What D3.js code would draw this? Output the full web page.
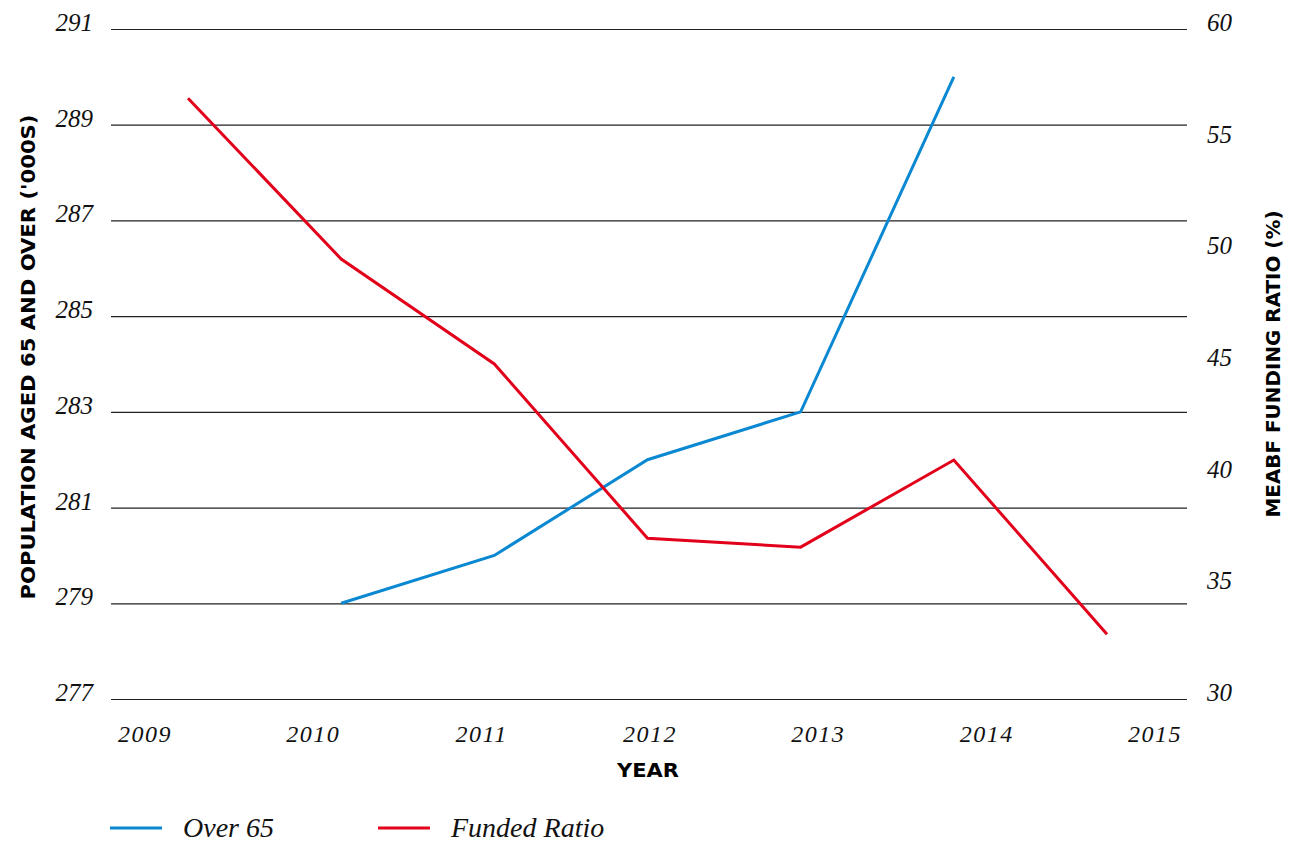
<!DOCTYPE html>
<html>
<head>
<meta charset="utf-8">
<style>
body { margin: 0; background: #fff; }
.num { font-family: "Liberation Serif", serif; font-style: italic; fill: #111; }
.ttl { font-family: "DejaVu Sans", sans-serif; font-weight: bold; fill: #000; }
</style>
</head>
<body>
<script src="https://cdn.jsdelivr.net/npm/d3@7/dist/d3.min.js"></script>
<script>

var years = ["2009", "2010", "2011", "2012", "2013", "2014", "2015"];
var over65 = [null, 279, 280, 282, 283, 290, null];
var fundedRatio = [56.9, 49.7, 45.0, 37.2, 36.8, 40.7, 32.9];
var leftTicks = [277, 279, 281, 283, 285, 287, 289, 291];
var rightTicks = [30, 35, 40, 45, 50, 55, 60];

var width = 1299, height = 843;

var svg = d3.select("body").append("svg")
    .attr("width", width)
    .attr("height", height);

// data points sit inside the label positions
var x = d3.scalePoint().domain(years).range([188, 1107]);
var xLab = d3.scalePoint().domain(years).range([145, 1155]);

var yLeft = d3.scaleLinear().domain([277, 291]).range([699, 29]);
var yRight = d3.scaleLinear().domain([30, 60]).range([699, 29]);

// gridlines
svg.append("g")
    .selectAll("line")
    .data(leftTicks)
    .enter().append("line")
    .attr("x1", 111)
    .attr("x2", 1187)
    .attr("y1", function(d) { return yLeft(d) + 0.5; })
    .attr("y2", function(d) { return yLeft(d) + 0.5; })
    .attr("stroke", "#222")
    .attr("stroke-width", 1.2);

// left tick labels
svg.append("g")
    .selectAll("text")
    .data(leftTicks)
    .enter().append("text")
    .attr("class", "num")
    .attr("x", 93)
    .attr("y", function(d) { return yLeft(d) + 2; })
    .attr("text-anchor", "end")
    .style("font-size", "25px")
    .text(function(d) { return d; });

// right tick labels
svg.append("g")
    .selectAll("text")
    .data(rightTicks)
    .enter().append("text")
    .attr("class", "num")
    .attr("x", 1207)
    .attr("y", function(d) { return yRight(d) + 2; })
    .attr("text-anchor", "start")
    .style("font-size", "25px")
    .text(function(d) { return d; });

// x labels
svg.append("g")
    .selectAll("text")
    .data(years)
    .enter().append("text")
    .attr("class", "num")
    .attr("x", function(d) { return xLab(d); })
    .attr("y", 742)
    .attr("text-anchor", "middle")
    .style("font-size", "24px")
    .style("letter-spacing", "1.5px")
    .text(function(d) { return d; });

// axis titles
function title(t, tr, len) {
  svg.append("text")
      .attr("class", "ttl")
      .attr("transform", tr)
      .attr("text-anchor", "middle")
      .attr("textLength", len)
      .attr("lengthAdjust", "spacingAndGlyphs")
      .style("font-size", "20px")
      .text(t);
}
title("YEAR", "translate(648,777)", 62);
title("POPULATION AGED 65 AND OVER ('000S)", "translate(35,357) rotate(-90)", 485);
title("MEABF FUNDING RATIO (%)", "translate(1280,364) rotate(-90)", 307);

// lines
var lineLeft = d3.line()
    .defined(function(d) { return d.v != null; })
    .x(function(d) { return x(d.year); })
    .y(function(d) { return yLeft(d.v); });

var lineRight = d3.line()
    .x(function(d) { return x(d.year); })
    .y(function(d) { return yRight(d.v); });

svg.append("path")
    .datum(years.map(function(y, i) { return {year: y, v: over65[i]}; }))
    .attr("fill", "none")
    .attr("stroke", "#0a88d2")
    .attr("stroke-width", 3)
    .attr("d", lineLeft);

svg.append("path")
    .datum(years.map(function(y, i) { return {year: y, v: fundedRatio[i]}; }))
    .attr("fill", "none")
    .attr("stroke", "#e2001a")
    .attr("stroke-width", 3)
    .attr("d", lineRight);

// legend
var legend = [
  {name: "Over 65", color: "#0a88d2", x: 110},
  {name: "Funded Ratio", color: "#e2001a", x: 378}
];

var lg = svg.append("g")
    .selectAll("g")
    .data(legend)
    .enter().append("g")
    .attr("transform", function(d) { return "translate(" + d.x + ",828)"; });

lg.append("line")
    .attr("x1", 0)
    .attr("x2", 52)
    .attr("stroke", function(d) { return d.color; })
    .attr("stroke-width", 3);

lg.append("text")
    .attr("class", "num")
    .attr("x", 73)
    .attr("y", 9)
    .style("font-size", "28px")
    .text(function(d) { return d.name; });

</script>
</body>
</html>
